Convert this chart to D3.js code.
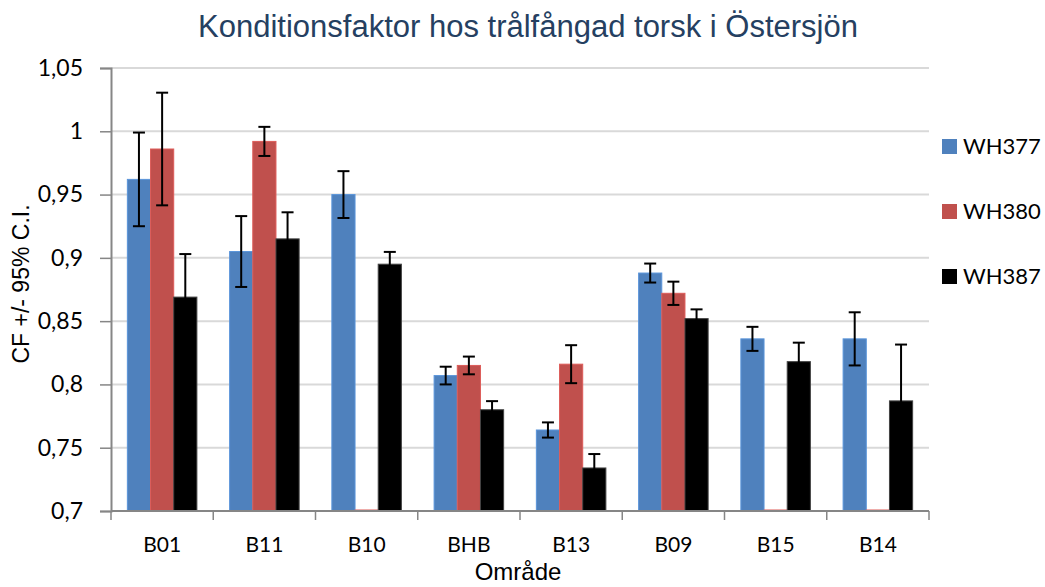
<!DOCTYPE html>
<html>
<head>
<meta charset="utf-8">
<script src="https://cdn.jsdelivr.net/npm/d3@7"></script>
<style>
  body { margin: 0; background: #fff; }
  svg text { font-family: Lato, "Liberation Sans", sans-serif; }
</style>
</head>
<body>
<div id="area"></div>
<script>
// categories and series
var categories = ["B01", "B11", "B10", "BHB", "B13", "B09", "B15", "B14"];
var seriesNames = ["WH377", "WH380", "WH387"];
var wh377 = [0.962, 0.905, 0.950, 0.807, 0.764, 0.888, 0.836, 0.836];
var wh380 = [0.986, 0.992, null, 0.815, 0.816, 0.872, null, null];
var wh387 = [0.869, 0.915, 0.895, 0.780, 0.734, 0.852, 0.818, 0.787];
// 95% C.I. half-widths
var ci377 = [0.037, 0.028, 0.0185, 0.007, 0.006, 0.0075, 0.0095, 0.021];
var ci380 = [0.0445, 0.0115, null, 0.007, 0.015, 0.0092, null, null];
var ci387 = [0.034, 0.021, 0.0097, 0.0068, 0.011, 0.0073, 0.015, 0.0445];
var yTicks = [0.7, 0.75, 0.8, 0.85, 0.9, 0.95, 1, 1.05];
var colors = ["#4F81BD", "#C0504D", "#000000"];

var values = [wh377, wh380, wh387];
var cis = [ci377, ci380, ci387];

var width = 1045, height = 587;
var margin = {top: 68, right: 116, bottom: 76, left: 111};
var plotW = width - margin.left - margin.right,
    plotH = height - margin.top - margin.bottom;

var svg = d3.select('#area').append('svg')
            .attr('width', width)
            .attr('height', height);

var g = svg.append('g')
           .attr('transform', 'translate(' + margin.left + ',' + margin.top + ')');

var x0 = d3.scaleBand()
           .domain(categories)
           .range([0, plotW])
           .paddingInner(0.32)
           .paddingOuter(0.16);

var x1 = d3.scaleBand()
           .domain(seriesNames)
           .range([0, x0.bandwidth()]);

var y = d3.scaleLinear()
          .domain([0.7, 1.05])
          .range([plotH, 0]);

var fmt = function(d) { return d3.format("")(+d.toFixed(2)).replace(".", ","); };

// gridlines
g.append('g')
 .selectAll('line')
 .data(yTicks.slice(1))
 .enter().append('line')
 .attr('x1', 0).attr('x2', plotW)
 .attr('y1', function(d) { return y(d); })
 .attr('y2', function(d) { return y(d); })
 .attr('stroke', '#d9d9d9')
 .attr('stroke-width', 2);

// bars
var groups = g.append('g')
  .selectAll('g')
  .data(categories)
  .enter().append('g')
  .attr('transform', function(d) { return 'translate(' + x0(d) + ',0)'; });

seriesNames.forEach(function(s, si) {
  groups.append('rect')
    .attr('x', x1(s))
    .attr('width', x1.bandwidth())
    .attr('y', function(d, i) { var v = values[si][i]; return v == null ? y(0.7) - 1 : y(v); })
    .attr('height', function(d, i) { var v = values[si][i]; return v == null ? 1.5 : y(0.7) - y(v); })
    .attr('fill', colors[si])
    .attr('stroke', si == 2 ? '#444' : d3.color(colors[si]).brighter(0.4))
    .attr('stroke-width', 1);
});

// error bars
seriesNames.forEach(function(s, si) {
  categories.forEach(function(c, i) {
    var v = values[si][i], e = cis[si][i];
    if (v == null) return;
    var cx = x0(c) + x1(s) + x1.bandwidth() / 2;
    var eb = g.append('g').attr('stroke', '#000').attr('stroke-width', 2);
    eb.append('line').attr('x1', cx).attr('x2', cx).attr('y1', y(v + e)).attr('y2', y(v - e));
    eb.append('line').attr('x1', cx - 6).attr('x2', cx + 6).attr('y1', y(v + e)).attr('y2', y(v + e));
    eb.append('line').attr('x1', cx - 6).attr('x2', cx + 6).attr('y1', y(v - e)).attr('y2', y(v - e));
  });
});

// y axis
var yAxis = d3.axisLeft(y)
              .tickValues(yTicks)
              .tickSize(11)
              .tickPadding(17)
              .tickFormat(fmt);
var ya = g.append('g').call(yAxis);
ya.select('.domain').attr('stroke', '#868686').attr('stroke-width', 2);
ya.selectAll('.tick line').attr('stroke', '#868686').attr('stroke-width', 1.5);
ya.selectAll('.tick text').attr('font-size', 23).attr('fill', '#000');

// x axis
var xa = g.append('g').attr('transform', 'translate(0,' + plotH + ')');
xa.append('line').attr('x1', 0).attr('x2', plotW).attr('stroke', '#868686').attr('stroke-width', 2);
var step = x0.step();
xa.selectAll('line.tk')
  .data(d3.range(categories.length + 1))
  .enter().append('line')
  .attr('class', 'tk')
  .attr('x1', function(i) { return x0(categories[0]) - x0.paddingOuter() * step + i * step; })
  .attr('x2', function(i) { return x0(categories[0]) - x0.paddingOuter() * step + i * step; })
  .attr('y1', 0).attr('y2', 9)
  .attr('stroke', '#868686').attr('stroke-width', 1.5);
xa.selectAll('text')
  .data(categories)
  .enter().append('text')
  .attr('x', function(d) { return x0(d) + x0.bandwidth() / 2; })
  .attr('y', 41)
  .attr('text-anchor', 'middle')
  .attr('font-size', 21)
  .text(function(d) { return d; });

// titles
svg.append('text')
   .attr('x', 528).attr('y', 37)
   .attr('text-anchor', 'middle')
   .attr('font-size', 31)
   .attr('fill', '#254061')
   .style('font-family', '"Liberation Sans", Arial, sans-serif')
   .text('Konditionsfaktor hos trålfångad torsk i Östersjön');

svg.append('text')
   .attr('x', 518).attr('y', 580)
   .attr('text-anchor', 'middle')
   .attr('font-size', 24)
   .style('font-family', '"Liberation Sans", Arial, sans-serif')
   .text('Område');

svg.append('text')
   .attr('transform', 'translate(29,284) rotate(-90)')
   .attr('text-anchor', 'middle')
   .attr('font-size', 23)
   .style('font-family', '"Liberation Sans", Arial, sans-serif')
   .text('CF +/- 95% C.I.');

// legend
var legend = svg.append('g')
  .selectAll('g')
  .data(seriesNames)
  .enter().append('g')
  .attr('transform', function(d, i) { return 'translate(942,' + (139 + i * 65) + ')'; });
legend.append('rect').attr('width', 15).attr('height', 15)
  .attr('fill', function(d, i) { return colors[i]; });
legend.append('text').attr('x', 21).attr('y', 15)
  .attr('font-size', 22)
  .text(function(d) { return d; });
</script>
</body>
</html>
